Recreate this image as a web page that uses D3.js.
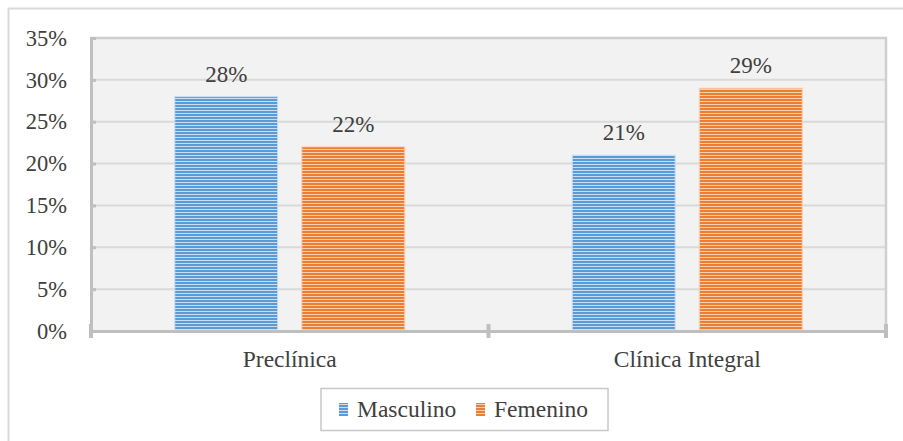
<!DOCTYPE html>
<html>
<head>
<meta charset="utf-8">
<script src="https://cdn.jsdelivr.net/npm/d3@7"></script>
<style>
  html, body { margin: 0; padding: 0; background: #ffffff; }
  svg { display: block; }
</style>
</head>
<body>
<svg id="chart" width="903" height="441"></svg>
<script>
// Share of students by area and sex
const categories = ["Preclínica", "Clínica Integral"];
const seriesNames = ["Masculino", "Femenino"];
const masculino = [28, 21];
const femenino = [22, 29];
const yTicks = [0, 5, 10, 15, 20, 25, 30, 35];

const seriesValues = [masculino, femenino];
const colors = { Masculino: ["#5b9bd5", "#c9def2"], Femenino: ["#ed7d31", "#f9cfb2"] };
const FONT = "'Liberation Serif', 'Times New Roman', serif";
const TEXT = "#404040";

const svg = d3.select("#chart");
const W = 903, H = 441;
const plot = { left: 91, right: 886, top: 38, bottom: 331 };

// outer chart frame (runs past the right and bottom edges)
svg.append("rect")
  .attr("x", 8.5).attr("y", 8.5)
  .attr("width", W).attr("height", H)
  .attr("fill", "#ffffff").attr("stroke", "#d9d9d9").attr("stroke-width", 2);

// striped fills
const defs = svg.append("defs");
seriesNames.forEach(name => {
  const p = defs.append("pattern")
    .attr("id", "stripe-" + name)
    .attr("patternUnits", "userSpaceOnUse")
    .attr("width", 8).attr("height", 3);
  p.append("rect").attr("width", 8).attr("height", 3).attr("fill", colors[name][1]);
  p.append("rect").attr("width", 8).attr("height", 2).attr("fill", colors[name][0]);
});

const x0 = d3.scaleBand().domain(categories).range([plot.left, plot.right]).paddingInner(0).paddingOuter(0);
const groupWidth = 230;
const x1 = d3.scaleBand().domain(seriesNames).range([0, groupWidth]).paddingInner(0.19);
const y = d3.scaleLinear().domain([0, 35]).range([plot.bottom, plot.top]);

// plot background
svg.append("rect")
  .attr("x", plot.left).attr("y", plot.top)
  .attr("width", plot.right - plot.left).attr("height", plot.bottom - plot.top)
  .attr("fill", "#f2f2f2");

// gridlines
svg.append("g")
  .selectAll("line")
  .data(yTicks.filter(t => t > 0))
  .join("line")
  .attr("x1", plot.left).attr("x2", plot.right)
  .attr("y1", d => y(d)).attr("y2", d => y(d))
  .attr("stroke", "#d9d9d9").attr("stroke-width", 2);

// plot frame top/right
svg.append("path")
  .attr("d", `M${plot.left},${plot.top} H${plot.right} V${plot.bottom}`)
  .attr("fill", "none").attr("stroke", "#cfcfcf").attr("stroke-width", 2.5);

// bars
const groups = svg.append("g")
  .selectAll("g")
  .data(categories)
  .join("g")
  .attr("transform", d => `translate(${x0(d) + (x0.bandwidth() - groupWidth) / 2},0)`);

groups.selectAll("rect")
  .data((c, i) => seriesNames.map((s, j) => ({ s, v: seriesValues[j][i] })))
  .join("rect")
  .attr("x", d => x1(d.s))
  .attr("y", d => y(d.v))
  .attr("width", x1.bandwidth())
  .attr("height", d => y(0) - y(d.v))
  .attr("fill", d => `url(#stripe-${d.s})`)
  .attr("stroke", d => colors[d.s][1])
  .attr("stroke-width", 1);

// value labels
groups.selectAll("text")
  .data((c, i) => seriesNames.map((s, j) => ({ s, v: seriesValues[j][i] })))
  .join("text")
  .attr("x", d => x1(d.s) + x1.bandwidth() / 2)
  .attr("y", d => y(d.v) - 15)
  .attr("text-anchor", "middle")
  .attr("font-family", FONT)
  .attr("font-size", 23)
  .attr("fill", TEXT)
  .text(d => d.v + "%");

// y axis
const yAxis = svg.append("g")
  .attr("transform", `translate(${plot.left},0)`)
  .call(d3.axisLeft(y).tickValues(yTicks).tickSize(-5).tickPadding(24).tickFormat(d => d + "%"))
  .attr("font-family", FONT).attr("font-size", 22.5);
yAxis.select(".domain").attr("stroke", "#bfbfbf").attr("stroke-width", 3);
yAxis.selectAll(".tick line").attr("stroke", "#bfbfbf").attr("stroke-width", 3);
yAxis.selectAll(".tick text").attr("fill", TEXT);

// x axis
const xAxis = svg.append("g")
  .attr("transform", `translate(0,${plot.bottom})`)
  .call(d3.axisBottom(x0).tickSize(0).tickPadding(19))
  .attr("font-family", FONT).attr("font-size", 23.5);
xAxis.select(".domain").attr("stroke", "#bfbfbf").attr("stroke-width", 3);
xAxis.selectAll(".tick text").attr("fill", TEXT);

// category separators on x axis
const edges = [x0.range()[0], ...categories.map(c => x0(c) + x0.bandwidth())];
xAxis.selectAll("line.sep")
  .data(edges)
  .join("line")
  .attr("class", "sep")
  .attr("x1", d => d).attr("x2", d => d)
  .attr("y1", -7).attr("y2", 7)
  .attr("stroke", "#bfbfbf").attr("stroke-width", 4);

// legend
const legend = svg.append("g").attr("font-family", FONT).attr("font-size", 23.5);
legend.append("rect")
  .attr("x", 321).attr("y", 388.5)
  .attr("width", 287).attr("height", 42)
  .attr("fill", "#ffffff").attr("stroke", "#c8c8c8").attr("stroke-width", 1.5);
const legendX = [339, 476];
seriesNames.forEach((name, i) => {
  legend.append("rect")
    .attr("x", legendX[i]).attr("y", 403)
    .attr("width", 9).attr("height", 13)
    .attr("fill", `url(#stripe-${name})`);
  legend.append("text")
    .attr("x", legendX[i] + 18).attr("y", 417)
    .attr("fill", TEXT)
    .text(name);
});
</script>
</body>
</html>
